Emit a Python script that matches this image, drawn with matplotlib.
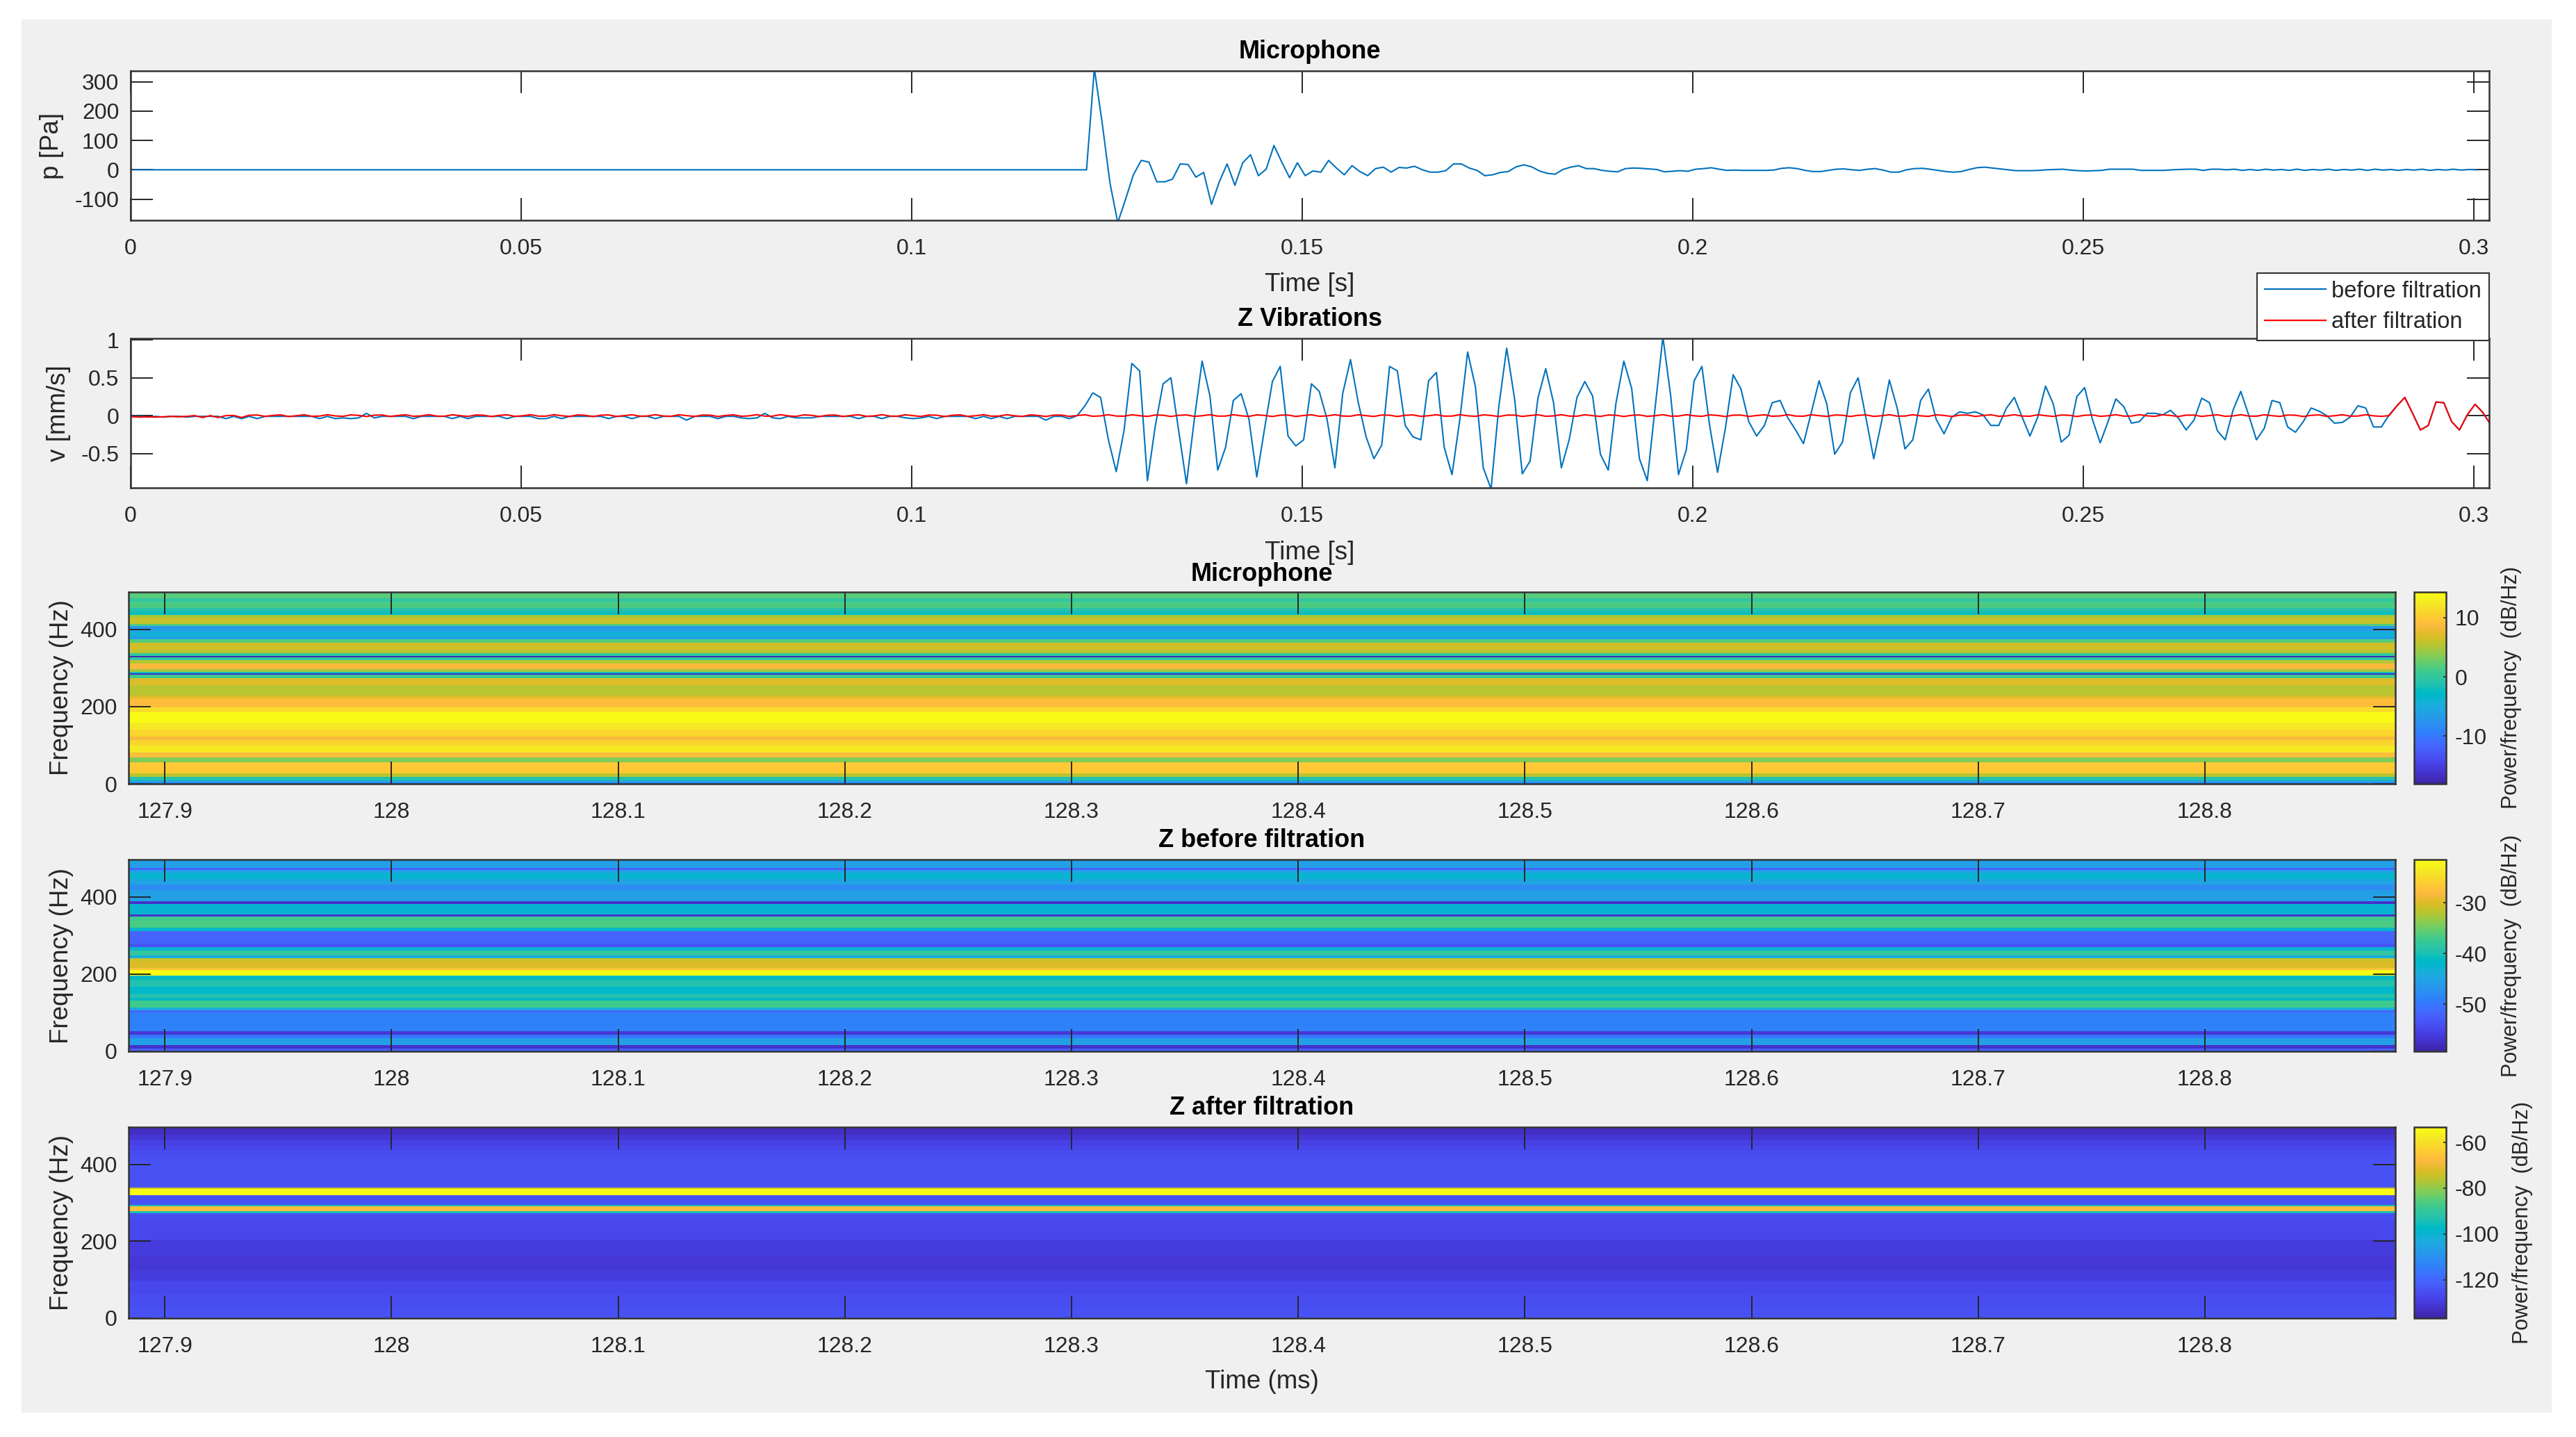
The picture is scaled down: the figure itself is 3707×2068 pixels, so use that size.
import numpy as np
import matplotlib
matplotlib.use("Agg")
import matplotlib.pyplot as plt
from matplotlib.colors import ListedColormap
from matplotlib.patches import Rectangle

plt.rcParams['font.family'] = ['Liberation Sans', 'DejaVu Sans']

# ---------- data ----------
SAMPLE_STEP = 0.001
mic_start = 0.0004
vib_start = 0.0002

mic_quiet = [0.0] * 122
mic_event = [0, 345, 160, -45, -180, -100, -17, 32, 26, -41, -41, -32, 20, 18, -25, -9, -118, -41, 20, -53,
             24, 51, -20, 2, 83, 26, -27, 24, -20, -4, -8, 32, 6, -17, 14, -6, -20, 4, 9, -8,
             8, 6, 12, 0, -8, -8, -3, 20, 20, 6, -2, -20, -17, -9, -6, 10, 17, 10, -4, -12,
             -15, 1, 9, 14, 4, 4, -2, -5, -7, 4, 6, 5, 3, 1, -7]
mic_tail = [-5, -3, -5, 2, 4, 7, 2, -2, -1, -2, -2, -2, -2, -1, 5, 7, 4, -2, -6, -6,
            -2, 2, 3, 0, -2, 2, 4, -1, -8, -8, 0, 4, 5, 2, -2, -6, -8, -6, 1, 7,
            9, 6, 3, 0, -3, -3, -3, -2, 0, 1, 2, -1, -3, -4, -3, -2, 2, 2, 2, 2,
            -2, -2, -2, -2, 0, 1, 2, 2, -2, 2, 2, 0,
            2, -2, 1, -2, 2, -1, 1, -2, 2, -2, 1, -1, 2, -2, 1, -1, 2, -2, 2, -1, 1, -2, 1, -1, 2, -2, 1, -1, 2, -1, 1, 0]

vib_quiet = [-0.01, -0.01, -0.02, -0.01, -0.02, -0.01, -0.01, -0.02, -0.01, -0.01, -0.01, -0.01,
             -0.04, -0.01, -0.04, -0.01, -0.04, -0.01, -0.01, -0.01, -0.01, -0.01, -0.01, -0.01,
             -0.04, -0.01, -0.04, -0.03, -0.04, -0.03, 0.03, -0.03, -0.01, -0.01, -0.01, -0.01,
             -0.04, -0.01, -0.01, -0.01, -0.01, -0.04, -0.01, -0.04, -0.01, -0.01, -0.01, -0.01,
             -0.04, -0.01, -0.01, -0.01, -0.04, -0.04, -0.01, -0.04, -0.01, -0.01, -0.01, -0.01,
             -0.01, -0.04, -0.01, -0.01, -0.04, -0.01, -0.01, -0.04, -0.01, -0.01, -0.01, -0.06,
             -0.01, -0.01, -0.01, -0.04, -0.01, -0.01, -0.03, -0.04, -0.03, 0.03, -0.03, -0.04,
             -0.01, -0.03, -0.03, -0.03, -0.01, -0.01, -0.01, -0.01, -0.01, -0.04, -0.01, -0.01,
             -0.04, -0.01, -0.01, -0.03, -0.04, -0.03, -0.01, -0.04, -0.01, -0.01, -0.01, -0.01,
             -0.04, -0.01, -0.04, -0.01, -0.04, -0.01, -0.01, -0.01, -0.01, -0.06, -0.01, -0.01,
             -0.04]
vib_event = [0.0, 0.13, 0.30, 0.24, -0.32, -0.74, -0.20, 0.69, 0.59, -0.86, -0.14, 0.42, 0.50, -0.20, -0.90, -0.05,
             0.72, 0.26, -0.72, -0.42, 0.20, 0.29, -0.05, -0.81, -0.17, 0.45, 0.65, -0.27, -0.40, -0.32, 0.42, 0.32,
             -0.05, -0.69, 0.29, 0.74, 0.17, -0.28, -0.57, -0.39, 0.65, 0.59, -0.13, -0.28, -0.32, 0.46, 0.57, -0.42,
             -0.78, -0.05, 0.84, 0.38, -0.69, -0.97, 0.13, 0.89, 0.23, -0.77, -0.60, 0.23, 0.62, 0.17, -0.69, -0.32,
             0.24, 0.45, 0.26, -0.51, -0.72, 0.17, 0.72, 0.36, -0.57, -0.86, 0.10, 1.04, 0.26, -0.78, -0.45, 0.46,
             0.65, -0.14, -0.75, -0.17, 0.54, 0.35, -0.08]
vib_late = [-0.27, -0.13, 0.17, 0.20, -0.03, -0.19, -0.37, 0.04, 0.46, 0.15, -0.51, -0.35, 0.30, 0.50, -0.03, -0.57,
            -0.08, 0.47, 0.10, -0.44, -0.32, 0.20, 0.35, -0.05, -0.24, -0.02, 0.05, 0.03, 0.05, 0.01, -0.13, -0.13,
            0.10, 0.24, -0.02, -0.27, -0.02, 0.39, 0.15, -0.35, -0.26, 0.25, 0.37, -0.05, -0.36, -0.08, 0.22, 0.12,
            -0.10, -0.08, 0.03, 0.03, 0.01, 0.07, -0.03, -0.19, -0.06, 0.23, 0.17, -0.20, -0.32, 0.07, 0.32, 0.01,
            -0.32, -0.17, 0.20, 0.17, -0.15, -0.22, -0.08, 0.10, 0.06, 0.00, -0.10, -0.09, -0.02, 0.13, 0.10, -0.15,
            -0.15, 0.01]
vib_end = [0.13, 0.24, 0.03, -0.19, -0.13, 0.18, 0.17, -0.08, -0.19, 0.01, 0.15, 0.04, -0.12]

after_ripple = [
    -0.02, -0.015, -0.02, -0.015, -0.02, -0.015, -0.02, -0.015, -0.01, -0.015,
    -0.01, 0.0, -0.025, 0.0, -0.025, 0.0, 0.002, -0.025, 0.005, 0.008, -0.010, 0.002, 0.010, -0.012, -0.002,
    0.011, -0.009, -0.006, 0.012, -0.004, -0.010, 0.010, 0.002, -0.012, 0.006, 0.008, -0.011, 0.001, 0.011, -0.009,
    -0.004, 0.012, -0.006, -0.008, 0.011, -0.001, -0.011, 0.008, 0.005, -0.012, 0.003, 0.010, -0.010, -0.002, 0.012,
    -0.007, -0.007, 0.012, -0.002, -0.011, 0.009, 0.004, -0.012, 0.005, 0.009, -0.011, 0.000, 0.011, -0.008, -0.005,
    0.012, -0.005, -0.009, 0.011, 0.000, -0.011, 0.007, 0.006, -0.012, 0.002, 0.010, -0.009, -0.003, 0.012, -0.007,
    -0.007, 0.012, -0.003, -0.011, 0.010, 0.003, -0.012, 0.005, 0.008, -0.011, 0.001, 0.011, -0.009, -0.004, 0.012,
    -0.006, -0.008, 0.011, -0.001, -0.011, 0.008, 0.005, -0.012, 0.004, 0.010, -0.010, -0.002, 0.012, -0.008, -0.006,
    0.012, -0.003, -0.010, 0.010, 0.002, -0.012, 0.006, 0.007, -0.011, 0.001, 0.011, -0.009, -0.004, 0.012, -0.006,
    -0.008, 0.011, -0.001, -0.011, 0.008, 0.005, -0.012, 0.004, 0.009, -0.010, -0.002, 0.012, -0.007, -0.006, 0.012,
    -0.003, -0.010, 0.010, 0.002, -0.012, 0.006, 0.007, -0.011, 0.001, 0.011, -0.009, -0.004, 0.012, -0.006, -0.008,
    0.011, -0.001, -0.011, 0.008, 0.005, -0.012, 0.004, 0.009, -0.010, -0.002, 0.012, -0.007, -0.006, 0.012, -0.003,
    -0.010, 0.010, 0.002, -0.012, 0.006, 0.007, -0.011, 0.001, 0.011, -0.009, -0.004, 0.012, -0.006, -0.008, 0.011,
    -0.001, -0.011, 0.008, 0.005, -0.012, 0.004, 0.009, -0.010, -0.002, 0.012, -0.007, -0.006, 0.012, -0.003, -0.010,
    0.010, 0.002, -0.012, 0.006, 0.007, -0.011, 0.001, 0.011, -0.009, -0.004, 0.012, -0.006, -0.008, 0.011, -0.001,
    -0.011, 0.008, 0.005, -0.012, 0.004, 0.009, -0.010, -0.002, 0.012, -0.007, -0.006, 0.012, -0.003, -0.010, 0.010,
    0.002, -0.012, 0.006, 0.007, -0.011, 0.001, 0.011, -0.009, -0.004, 0.012, -0.006, -0.008, 0.011, -0.001, -0.011,
    0.008, 0.005, -0.012, 0.004, 0.009, -0.010, -0.002, 0.012, -0.007, -0.006, 0.012, -0.003, -0.010, 0.010, 0.002,
    -0.012, 0.006, 0.007, -0.011, 0.001, 0.011, -0.009, -0.004, 0.012, -0.006, -0.008, 0.011, -0.001, -0.011, 0.008,
    0.005, -0.012, 0.004, 0.009, -0.010, -0.002, 0.012, -0.007, -0.006, 0.012, -0.003, -0.010, 0.0]

time_ticks = [0, 0.05, 0.1, 0.15, 0.2, 0.25, 0.3]
time_labels = ['0', '0.05', '0.1', '0.15', '0.2', '0.25', '0.3']
mic_ticks = [-100, 0, 100, 200, 300]
vib_ticks = [-0.5, 0, 0.5, 1]
vib_labels = ['-0.5', '0', '0.5', '1']
spec_time_range = [127.884, 128.884]
spec_ticks = [127.9, 128, 128.1, 128.2, 128.3, 128.4, 128.5, 128.6, 128.7, 128.8]
spec_labels = ['127.9', '128', '128.1', '128.2', '128.3', '128.4', '128.5', '128.6', '128.7', '128.8']

spec1_hz = [0, 3, 9, 18, 27, 56, 69, 81, 99, 114, 123, 141, 159, 186, 198, 222, 228, 255, 273, 282, 286, 290,
            297, 312, 320, 327, 332, 339, 348, 366, 374, 381, 392, 401, 408, 414, 432, 438, 447, 456, 471, 480, 497]
spec1_db = [-9.0, -5.8, -1.2, 5.3, 9.8, 3.3, 8.8, 12.7, 11.1, 8.5, 11.1, 12.7, 14.35, 11.8, 8.8, 7.2, 5.3, 6.9,
            0.7, -16.5, -1.9, 4.6, 8.5, 5.3, -0.3, -17.1, -0.3, 5.3, 6.6, 2.0, -6.4, -4.1, -5.8, -7.4, 1.4, 5.9,
            4.6, -1.9, -0.9, 1.4, 0.1, 2.0]
spec2_hz = [0, 7, 17, 34, 43, 53, 83, 100, 106, 114, 132, 138, 150, 168, 186, 196, 210, 216, 234, 242, 249, 261,
            271, 279, 312, 321, 339, 349, 354, 381, 389, 417, 432, 447, 462, 470, 475, 497]
spec2_db = [-51.7, -57.4, -45.3, -49.9, -56.7, -49.1, -48.7, -51.7, -43.4, -37.4, -41.2, -39.3, -41.9, -39.6,
            -41.2, -21.5, -27.2, -29.8, -31.0, -43.4, -38.1, -42.3, -53.6, -51.7, -41.9, -36.6, -37.4, -57.4,
            -42.7, -57.0, -45.3, -48.0, -44.9, -42.3, -45.7, -51.7, -45.7]
spec3_hz = [0, 25, 61, 97, 127, 163, 205, 253, 273, 278, 291, 295, 320, 336, 340, 415, 433, 448, 463, 478, 497]
spec3_db = [-125.0, -126.0, -127.5, -129.3, -131.0, -129.3, -127.6, -126.0, -95.0, -66.7, -95.0, -125.0, -53.3,
            -74.2, -125.0, -126.0, -127.5, -128.8, -131.0, -133.5]
clims = [(-18.1, 14.35), (-59.3, -21.5), (-136.8, -53.3)]
cbar_ticks = [[-10, 0, 10], [-50, -40, -30], [-120, -100, -80, -60]]

parula = ListedColormap([
    (0.2422, 0.1504, 0.6603), (0.2504, 0.1650, 0.7076), (0.2578, 0.1818, 0.7511), (0.2647, 0.1978, 0.7952),
    (0.2706, 0.2147, 0.8364), (0.2751, 0.2342, 0.8710), (0.2783, 0.2559, 0.8991), (0.2803, 0.2782, 0.9221),
    (0.2813, 0.3006, 0.9414), (0.2810, 0.3228, 0.9579), (0.2795, 0.3447, 0.9717), (0.2760, 0.3667, 0.9829),
    (0.2699, 0.3892, 0.9906), (0.2602, 0.4123, 0.9952), (0.2440, 0.4358, 0.9988), (0.2206, 0.4603, 0.9973),
    (0.1963, 0.4847, 0.9892), (0.1834, 0.5074, 0.9798), (0.1786, 0.5289, 0.9682), (0.1764, 0.5499, 0.9520),
    (0.1687, 0.5703, 0.9359), (0.1540, 0.5902, 0.9218), (0.1460, 0.6091, 0.9079), (0.1380, 0.6276, 0.8973),
    (0.1248, 0.6459, 0.8883), (0.1113, 0.6635, 0.8763), (0.0952, 0.6798, 0.8598), (0.0689, 0.6948, 0.8394),
    (0.0297, 0.7082, 0.8163), (0.0036, 0.7203, 0.7917), (0.0067, 0.7312, 0.7660), (0.0433, 0.7411, 0.7394),
    (0.0964, 0.7500, 0.7120), (0.1408, 0.7584, 0.6842), (0.1717, 0.7670, 0.6554), (0.1938, 0.7758, 0.6251),
    (0.2161, 0.7843, 0.5923), (0.2470, 0.7918, 0.5567), (0.2906, 0.7973, 0.5188), (0.3406, 0.8008, 0.4789),
    (0.3909, 0.8029, 0.4354), (0.4456, 0.8024, 0.3909), (0.5044, 0.7993, 0.3480), (0.5616, 0.7942, 0.3045),
    (0.6174, 0.7876, 0.2612), (0.6720, 0.7793, 0.2227), (0.7242, 0.7698, 0.1910), (0.7738, 0.7598, 0.1646),
    (0.8203, 0.7498, 0.1535), (0.8634, 0.7406, 0.1596), (0.9035, 0.7330, 0.1774), (0.9393, 0.7288, 0.2100),
    (0.9728, 0.7298, 0.2394), (0.9956, 0.7434, 0.2371), (0.9970, 0.7659, 0.2199), (0.9952, 0.7893, 0.2028),
    (0.9892, 0.8136, 0.1885), (0.9786, 0.8386, 0.1766), (0.9676, 0.8639, 0.1643), (0.9610, 0.8890, 0.1537),
    (0.9597, 0.9135, 0.1423), (0.9628, 0.9373, 0.1265), (0.9691, 0.9606, 0.1064), (0.9769, 0.9839, 0.0805)])

# ---------- layout (pixels of the 3707x2068 canvas) ----------
W, H = 3707, 2068
DPI = 100
INK = '#262626'
EDGE = '#333333'
fig = plt.figure(figsize=(W / DPI, H / DPI), dpi=DPI, facecolor='white')
fig.patches.append(Rectangle((31 / W, 1 - 2033 / H), (3672 - 31) / W, (2033 - 28) / H,
                             transform=fig.transFigure, facecolor='#F0F0F0', edgecolor='none', zorder=-5))


def make_axes(l, t, r, b):
    return fig.add_axes([l / W, 1 - b / H, (r - l) / W, (b - t) / H])


def style(ax, title, title_y, xlabel, xlabel_y, ylabel, ylabel_x, l, t, r, b, xticks, xlabels):
    for s in ax.spines.values():
        s.set_linewidth(1.8)
        s.set_color(EDGE)
    ax.tick_params(axis='both', direction='in', length=23, width=1.4, color=INK, labelcolor=INK,
                   top=True, right=True, labelsize=23)
    ax.tick_params(axis='x', pad=18.5)
    ax.tick_params(axis='y', pad=12)
    ax.set_xticks(xticks)
    ax.set_xticklabels(xlabels)
    h = b - t
    w = r - l
    ax.set_title(title, fontsize=26, fontweight='bold', color='black',
                 y=1 + (t - title_y) / h, va='center')
    if xlabel:
        ax.set_xlabel(xlabel, fontsize=26.5, color=INK, va='center')
        ax.xaxis.set_label_coords(0.5, -(xlabel_y - b) / h)
    ax.set_ylabel(ylabel, fontsize=26.5, color=INK, va='center')
    ax.yaxis.set_label_coords((ylabel_x - l) / w, 0.5)


# Microphone time trace
box = (188, 102, 3582, 317)
ax1 = make_axes(*box)
mic = np.array(mic_quiet + mic_event + mic_tail, dtype=float)
mic_t = mic_start + np.arange(mic.size) * SAMPLE_STEP
ax1.plot(mic_t, mic, color='#0072BD', lw=1.5)
ax1.set_xlim(0, 0.302)
ax1.set_ylim(-172, 337)
ax1.set_yticks(mic_ticks)
ax1.set_yticklabels([str(v) for v in mic_ticks])
style(ax1, 'Microphone', 83, 'Time [s]', 409, 'p [Pa]', 74, *box, time_ticks, time_labels)

# Z vibrations time trace
box = (188, 487, 3582, 702)
ax2 = make_axes(*box)
before = np.array(vib_quiet + vib_event + vib_late + vib_end, dtype=float)
vib_t = vib_start + np.arange(before.size) * SAMPLE_STEP
after = np.array(after_ripple + vib_end, dtype=float)[-before.size:]
ax2.plot(vib_t, before, color='#0072BD', lw=1.5, label='before filtration')
ax2.plot(vib_t[-after.size:], after, color='#FF0000', lw=1.5, label='after filtration')
ax2.set_xlim(0, 0.302)
ax2.set_ylim(-0.954, 1.02)
ax2.set_yticks(vib_ticks)
ax2.set_yticklabels(vib_labels)
style(ax2, 'Z Vibrations', 468, 'Time [s]', 795, 'v [mm/s]', 85, *box, time_ticks, time_labels)
leg = ax2.legend(loc='upper right', bbox_to_anchor=(3582 / W, 1 - 393 / H), bbox_transform=fig.transFigure,
                 fontsize=23.5, frameon=True, fancybox=False, framealpha=1, facecolor='white', edgecolor=EDGE,
                 handlelength=2.7, handletextpad=0.25, labelspacing=0.42, borderpad=0.33, borderaxespad=0,
                 labelcolor=INK)
leg.get_frame().set_linewidth(1.5)
leg.set_zorder(20)
for line in leg.get_lines():
    line.set_linewidth(1.6)

# Spectrograms
spec_rows = [
    ('Microphone', 835, (185, 852, 3447, 1128), spec1_hz, spec1_db, '', 0, 3612),
    ('Z before filtration', 1218, (185, 1237, 3447, 1513), spec2_hz, spec2_db, '', 0, 3612),
    ('Z after filtration', 1603, (185, 1622, 3447, 1897), spec3_hz, spec3_db, 'Time (ms)', 1989, 3628),
]
for i, (title, ty, box, hz, db, xl, xy, cb_x) in enumerate(spec_rows):
    ax = make_axes(*box)
    grid = np.array(db, dtype=float).reshape(-1, 1)
    mesh = ax.pcolormesh(spec_time_range, hz, grid, cmap=parula, vmin=clims[i][0], vmax=clims[i][1],
                         shading='flat', rasterized=False)
    ax.set_xlim(*spec_time_range)
    ax.set_ylim(0, 497)
    ax.set_yticks([0, 200, 400])
    ax.set_yticklabels(['0', '200', '400'])
    style(ax, title, ty, xl, xy, 'Frequency (Hz)', 89, *box, spec_ticks, spec_labels)
    cax = make_axes(3474, box[1], 3520, box[3])
    cb = fig.colorbar(mesh, cax=cax)
    cb.set_ticks(cbar_ticks[i])
    cb.set_ticklabels([str(v) for v in cbar_ticks[i]])
    cb.outline.set_linewidth(1.8)
    cb.outline.set_edgecolor(EDGE)
    cax.tick_params(axis='y', direction='in', length=3, width=1.2, color=INK, labelcolor=INK,
                    labelsize=23, pad=9)
    cax.set_ylabel('Power/frequency  (dB/Hz)', fontsize=22, color=INK, va='center', rotation=90)
    cax.yaxis.set_label_coords((cb_x + 2 - 3474) / 46, 0.5)

fig.savefig('out.png', dpi=DPI, facecolor=fig.get_facecolor())
